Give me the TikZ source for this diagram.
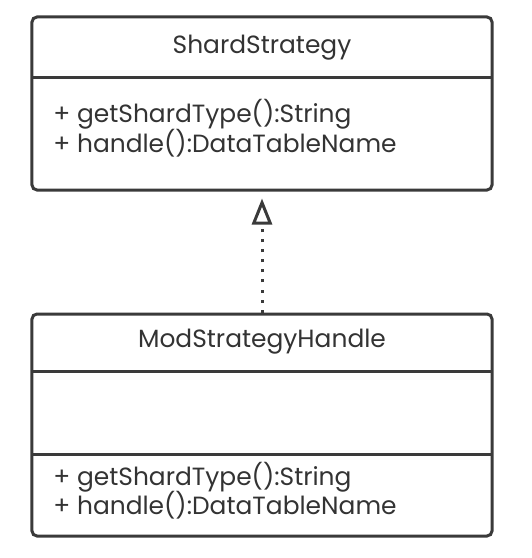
\documentclass[tikz,border=0pt]{standalone}
\usepackage{fontspec}
\setmainfont{Poppins}
\usepackage{tikz}
\usetikzlibrary{arrows.meta}
\usetikzlibrary{positioning}
\definecolor{umlgray}{HTML}{3A3A3A}
\definecolor{umltext}{HTML}{333333}

\begin{document}
\begin{tikzpicture}[x=1bp,y=-1bp,thick,
    class box/.style={rectangle,draw=umlgray,line width=3bp,rounded corners=5bp,inner sep=0pt},
    divider/.style={-,draw=umlgray,line width=3bp},
    title text/.style={anchor=base,text=umltext,font=\fontsize{25}{30}\selectfont,inner sep=0pt},
    member text/.style={anchor=base west,text=umltext,font=\fontsize{25}{30}\selectfont,inner sep=0pt},
    realize/.style={-{Triangle[open,length=26bp,width=20bp,line width=3bp]},draw=umlgray,line width=3bp,dash pattern=on 3bp off 7bp,shorten >=7bp}]
    \useasboundingbox (0,0) rectangle (532,558);
    \begin{scope}
      % interface
      \node[class box,minimum width=460bp,minimum height=173bp] (shard) at (262,103.5) {};
      \path[divider] (32,78) -- (492,78);
      \node[title text] (shardtitle) at (262,54) {ShardStrategy};
      \node[member text] (shardm1) at (53,123) {+ getShardType():String};
      \node[member text] (shardm2) at (53,153) {+ handle():DataTableName};

      % implementation
      \node[class box,minimum width=460bp,minimum height=222bp] (mod) at (262,425) {};
      \path[divider] (32,371) -- (492,371);
      \path[divider] (32,454) -- (492,454);
      \node[title text] (modtitle) at (262,347) {ModStrategyHandle};
      \node[member text] (modm1) at (53,485) {+ getShardType():String};
      \node[member text] (modm2) at (53,514) {+ handle():DataTableName};

      \draw[realize] (mod.north) -- (shard.south);
    \end{scope}
  \end{tikzpicture}
\end{document}
